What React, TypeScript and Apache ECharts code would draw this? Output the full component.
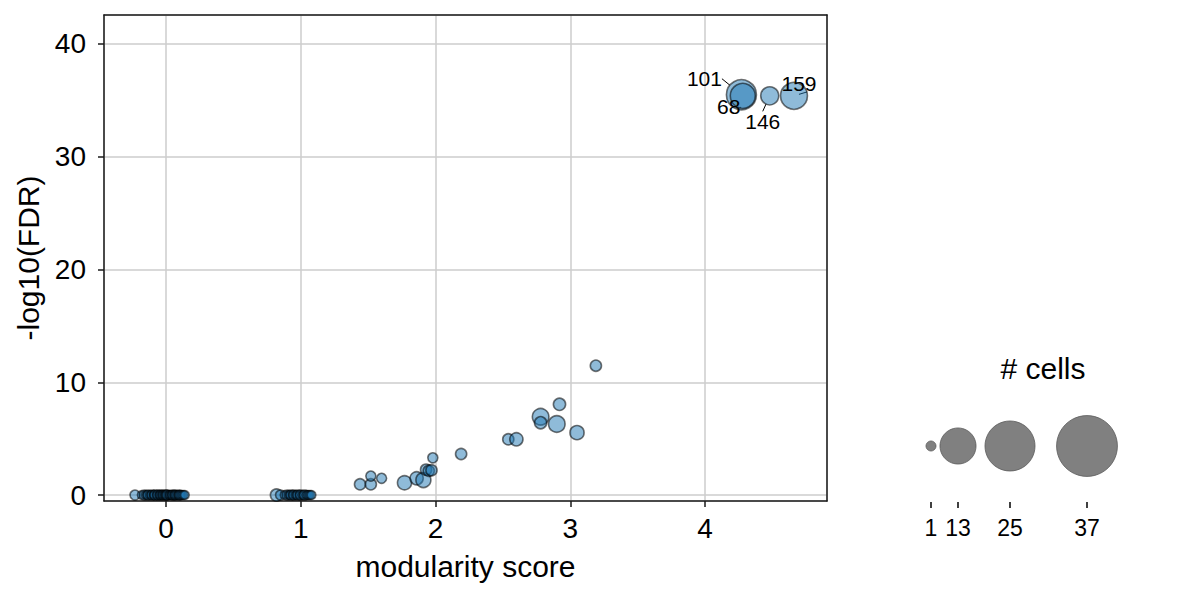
import React, { useEffect, useRef } from "react";
import * as echarts from "echarts";

// community modularity score (x)
const scores = [
  -0.23, -0.18, -0.16, -0.15, -0.14, -0.13, -0.12, -0.11, -0.1, -0.09,
  -0.09, -0.08, -0.07, -0.06, -0.06, -0.05, -0.04, -0.04, -0.03, -0.02,
  -0.02, -0.01, 0.0, 0.0, 0.01, 0.01, 0.02, 0.03, 0.03, 0.04,
  0.05, 0.05, 0.06, 0.07, 0.07, 0.08, 0.09, 0.1, 0.1, 0.11,
  0.12, 0.13, 0.14,
  0.82, 0.85, 0.88, 0.9, 0.91, 0.92, 0.93, 0.94, 0.95, 0.96, 0.97, 0.98, 0.99,
  1.0, 1.01, 1.02, 1.03, 1.04, 1.05, 1.06, 1.07, 1.08,
  1.44, 1.52, 1.52, 1.6, 1.77, 1.86, 1.91, 1.93, 1.95, 1.97, 1.98, 2.19,
  2.54, 2.6, 2.78, 2.78, 2.9, 2.92, 3.05, 3.19,
  4.48, 4.66, 4.27, 4.28,
];
// -log10(FDR) (y)
const negLog10Fdr = [
  0, 0, 0, 0, 0, 0, 0, 0, 0, 0,
  0, 0, 0, 0, 0, 0, 0, 0, 0, 0,
  0, 0, 0, 0, 0, 0, 0, 0, 0, 0,
  0, 0, 0, 0, 0, 0, 0, 0, 0, 0,
  0, 0, 0,
  0, 0, 0, 0, 0, 0, 0, 0, 0, 0, 0, 0, 0,
  0, 0, 0, 0, 0, 0, 0, 0, 0,
  0.95, 0.95, 1.68, 1.48, 1.09, 1.48, 1.33, 2.25, 2.15, 2.2, 3.3, 3.64,
  4.94, 4.94, 6.94, 6.41, 6.3, 8.04, 5.53, 11.47,
  35.4, 35.4, 35.5, 35.4,
];
// number of cells per community
const cellCounts = [
  4, 3, 4, 3, 3, 4, 3, 3, 4, 3,
  3, 4, 3, 3, 4, 3, 4, 3, 3, 4,
  3, 3, 4, 3, 3, 4, 3, 3, 3, 3,
  4, 3, 3, 4, 3, 3, 3, 4, 3, 3,
  3, 3, 3,
  6, 4, 3, 4, 3, 3, 4, 3, 4, 3, 3, 4, 3,
  4, 3, 3, 4, 3, 3, 3, 3, 3,
  5, 5, 4, 4, 8, 7, 9, 5, 5, 5, 4, 5,
  5, 7, 11, 6, 11, 6, 8, 5,
  13, 29, 36, 25,
];
// community labels (only annotated ones)
const clusterIds = [
  "", "", "", "", "", "", "", "", "", "",
  "", "", "", "", "", "", "", "", "", "",
  "", "", "", "", "", "", "", "", "", "",
  "", "", "", "", "", "", "", "", "", "",
  "", "", "",
  "", "", "", "", "", "", "", "", "", "", "", "", "",
  "", "", "", "", "", "", "", "", "",
  "", "", "", "", "", "", "", "", "", "", "", "",
  "", "", "", "", "", "", "", "",
  "146", "159", "101", "68",
];

const xTickLabels = ["0", "1", "2", "3", "4"];
const yTickLabels = ["0", "10", "20", "30", "40"];
const legendCells = [1, 13, 25, 37];

const FONT = "'Liberation Sans', Arial, sans-serif";

// label placement offsets (px) relative to the point centre
const labelOffsets: Record<string, [number, number]> = {
  "101": [-37, -16],
  "68": [-14, 11],
  "146": [-7, 26],
  "159": [5, -12],
};

const X_MIN = -0.46;
const X_MAX = 4.905;
const Y_MIN = -0.53;
const Y_MAX = 42.57;

export default function App() {
  const ref = useRef<HTMLDivElement>(null);
  useEffect(() => {
    if (!ref.current) return;
    const chart = echarts.init(ref.current, undefined, { renderer: "svg" });

    const data = scores.map((x, i) => {
      const id = clusterIds[i];
      const item: any = { value: [x, negLog10Fdr[i], cellCounts[i]], name: id };
      if (id) {
        item.label = { show: true };
        item.labelLine = { show: true };
      }
      return item;
    });

    // legend layout
    const legendX = [931, 958, 1010, 1087];
    const legendY = 446;
    const graphics: any[] = [
      {
        type: "text",
        x: 1043,
        y: 368,
        style: {
          text: "# cells",
          fontSize: 30,
          fontFamily: FONT,
          fill: "#000",
          align: "center",
          verticalAlign: "middle",
        },
      },
    ];
    legendCells.forEach((n, i) => {
      graphics.push({
        type: "circle",
        shape: { cx: legendX[i], cy: legendY, r: 5 * Math.sqrt(n) },
        style: { fill: "#808080", stroke: "#5a5a5a", lineWidth: 0.8 },
      });
      graphics.push({
        type: "line",
        shape: { x1: legendX[i], y1: 502, x2: legendX[i], y2: 508 },
        style: { stroke: "#000", lineWidth: 1.5 },
      });
      graphics.push({
        type: "text",
        x: legendX[i],
        y: 528,
        style: {
          text: String(n),
          fontSize: 23,
          fontFamily: FONT,
          fill: "#000",
          align: "center",
          verticalAlign: "middle",
        },
      });
    });

    const tickFmt = (labels: string[]) => (v: number) => {
      const r = Math.round(v);
      return Math.abs(v - r) < 1e-9 && labels.includes(String(r)) ? String(r) : "";
    };

    const spineAxisCommon = {
      type: "value",
      axisLine: { show: true, onZero: false, lineStyle: { color: "#1a1a1a", width: 1.5 } },
      axisTick: { show: false },
      axisLabel: { show: false },
      splitLine: { show: false },
    };

    chart.setOption({
      animation: false,
      backgroundColor: "#fff",
      textStyle: { fontFamily: FONT },
      grid: {
        left: 104,
        right: 353,
        top: 15,
        bottom: 99,
        show: false,
      },
      xAxis: [
        {
          type: "value",
          min: X_MIN,
          max: X_MAX,
          splitNumber: 5,
          name: "modularity score",
          nameLocation: "middle",
          nameGap: 50,
          nameTextStyle: { fontSize: 30, color: "#000", fontFamily: FONT },
          axisLine: { show: true, onZero: false, lineStyle: { color: "#1a1a1a", width: 1.5 } },
          axisTick: { show: true, inside: false, length: 6, lineStyle: { color: "#1a1a1a", width: 1.5 } },
          axisLabel: {
            fontSize: 28,
            color: "#000",
            fontFamily: FONT,
            margin: 13,
            showMinLabel: false,
            showMaxLabel: false,
            formatter: tickFmt(xTickLabels),
          },
          splitLine: { show: true, lineStyle: { color: "#cccccc", width: 1.5 } },
        },
        { ...spineAxisCommon, position: "top", min: X_MIN, max: X_MAX },
      ],
      yAxis: [
        {
          type: "value",
          min: Y_MIN,
          max: Y_MAX,
          splitNumber: 5,
          name: "-log10(FDR)",
          nameLocation: "middle",
          nameGap: 46,
          nameRotate: 90,
          nameTextStyle: { fontSize: 30, color: "#000", fontFamily: FONT },
          axisLine: { show: true, onZero: false, lineStyle: { color: "#1a1a1a", width: 1.5 } },
          axisTick: { show: true, inside: false, length: 6, lineStyle: { color: "#1a1a1a", width: 1.5 } },
          axisLabel: {
            fontSize: 28,
            color: "#000",
            fontFamily: FONT,
            margin: 18,
            showMinLabel: false,
            showMaxLabel: false,
            formatter: tickFmt(yTickLabels),
          },
          splitLine: { show: true, lineStyle: { color: "#cccccc", width: 1.5 } },
        },
        { ...spineAxisCommon, position: "right", min: Y_MIN, max: Y_MAX },
      ],
      series: [
        {
          type: "scatter",
          xAxisIndex: 0,
          yAxisIndex: 0,
          data,
          symbolSize: (v: number[]) => 5 * Math.sqrt(v[2]),
          itemStyle: {
            color: "rgba(31,119,180,0.5)",
            borderColor: "rgba(0,0,0,0.55)",
            borderWidth: 1.6,
            opacity: 1,
          },
          label: {
            show: false,
            position: "inside",
            formatter: (p: any) => p.name,
            fontSize: 21,
            color: "#000",
            fontFamily: FONT,
          },
          labelLine: { show: false, lineStyle: { color: "#000", width: 1 } },
          labelLayout: (p: any) => {
            const id = clusterIds[p.dataIndex];
            const off = labelOffsets[id];
            if (!off) return {};
            return { dx: off[0], dy: off[1] };
          },
          emphasis: { disabled: true },
        },
      ],
      graphic: graphics,
    });

    return () => chart.dispose();
  }, []);

  return <div ref={ref} style={{ width: 1180, height: 600, marginLeft: -8, marginTop: -8 }} />;
}
